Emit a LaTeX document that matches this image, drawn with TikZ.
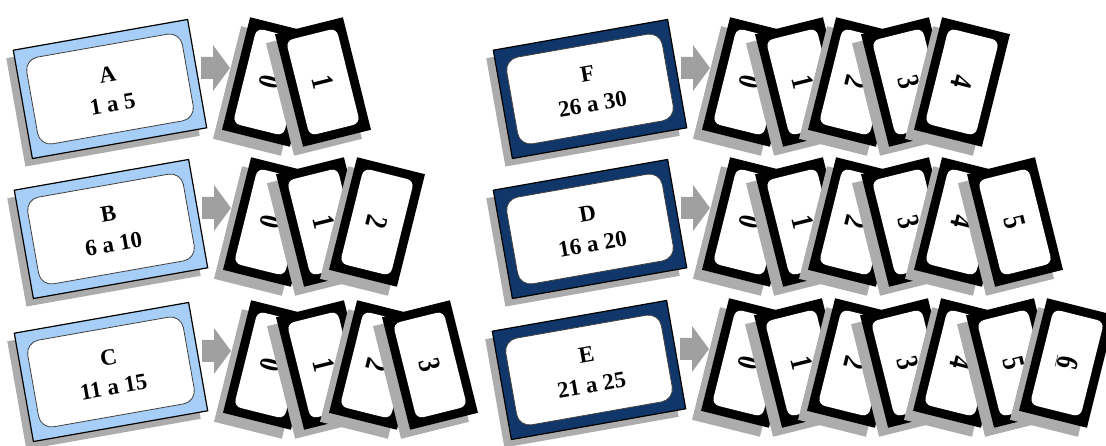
\documentclass[tikz,border=0pt]{standalone}
\usepackage{fontspec}
\setmainfont{Liberation Serif}
\definecolor{lightbox}{RGB}{166,206,246}
\definecolor{darkbox}{RGB}{16,54,106}
\definecolor{shadowgray}{RGB}{172,172,172}
\definecolor{arrowgray}{RGB}{160,160,160}
\tikzset{
  boxshadow/.style={rectangle, fill=shadowgray, minimum width=177pt, minimum height=110pt, inner sep=0pt, rotate=10},
  boxouter/.style={rectangle, draw=black, line width=1.2pt, minimum width=177pt, minimum height=110pt, inner sep=0pt, rotate=10},
  boxinner/.style={rectangle, rounded corners=13pt, draw=black!75, line width=0.8pt, fill=white,
    minimum width=158pt, minimum height=88pt, inner sep=0pt, rotate=10, align=center,
    font=\bfseries\fontsize{23}{30}\selectfont},
  cardshadow/.style={rectangle, fill=shadowgray, minimum width=70pt, minimum height=116pt, inner sep=0pt},
  cardface/.style={rectangle, fill=black, minimum width=70pt, minimum height=116pt, inner sep=0pt},
  cardinner/.style={rectangle, fill=white, rounded corners=7pt, minimum width=98pt, minimum height=52pt,
    inner sep=0pt, font=\bfseries\fontsize{31}{31}\selectfont},
  flowarrow/.style={fill=arrowgray}
}
% #1 id, #2 x, #3 y, #4 fill colour, #5 letter, #6 range, #7 last card index
\newcommand{\cardrow}[7]{%
  \node[boxshadow] (#1-s) at (#2-7,#3-8) {};
  \node[boxouter, fill=#4] (#1) at (#2,#3) {};
  \node[boxinner] (#1-i) at (#1.center) {#5\\#6};
  \coordinate (#1-a) at (#2+106,#3+21);
  \fill[flowarrow, shift={(#1-a)}] (-15,11) -- (-3,11) -- (-3,23) -- (14,0) -- (-3,-23) -- (-3,-11) -- (-15,-11) -- cycle;
  \foreach \k in {0,...,#7}{%
    \pgfmathsetmacro{\ang}{mod(\k,2)==0 ? -14 : 14}%
    \pgfmathsetmacro{\tang}{\ang-90}%
    \node[cardshadow, rotate=\ang] (#1-c\k-s) at (#2+160+53*\k-9,#3+7-9) {};
    \node[cardface, rotate=\ang] (#1-c\k) at (#2+160+53*\k,#3+7) {};
    \node[cardinner, rotate=\tang] (#1-c\k-i) at (#1-c\k.center)
      {\scalebox{0.8}[1]{\ifnum\k=6 \underline{6}\else\k\fi}};
  }%
}
\begin{document}
\begin{tikzpicture}[x=1pt,y=1pt]
  \useasboundingbox (0,0) rectangle (1106,-446);
  \fill[white] (0,0) rectangle (1106,-446);
  \cardrow{A}{110}{-89}{lightbox}{A}{1 a 5}{1}
  \cardrow{B}{111}{-229}{lightbox}{B}{6 a 10}{2}
  \cardrow{C}{111}{-372}{lightbox}{C}{11 a 15}{3}
  \cardrow{F}{590}{-89}{darkbox}{F}{26 a 30}{4}
  \cardrow{D}{590}{-229}{darkbox}{D}{16 a 20}{5}
  \cardrow{E}{589}{-370}{darkbox}{E}{21 a 25}{6}
\end{tikzpicture}
\end{document}
